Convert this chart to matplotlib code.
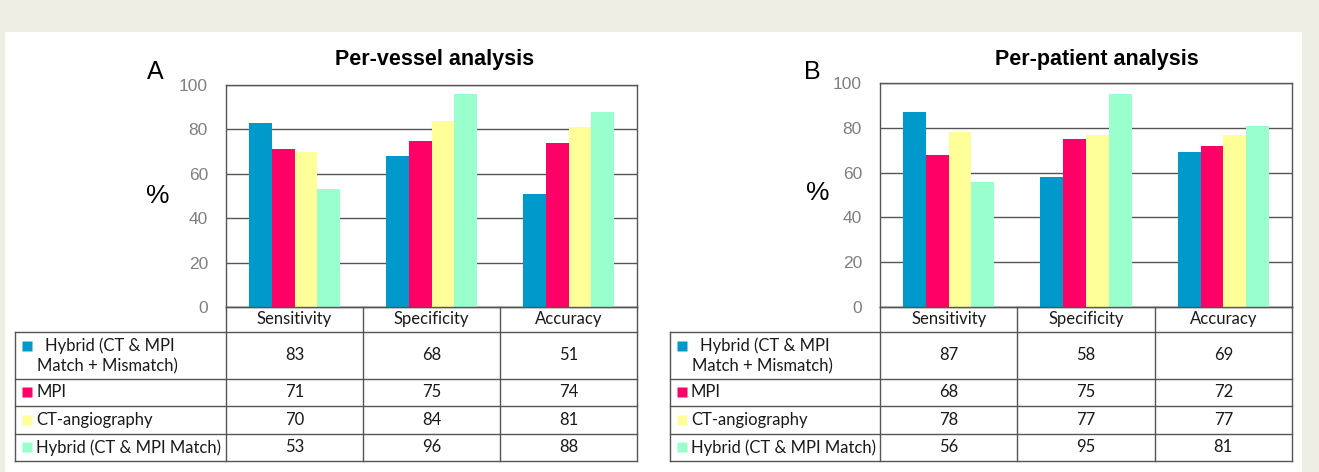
import matplotlib
matplotlib.use("Agg")
import matplotlib.pyplot as plt
from matplotlib.patches import Rectangle

W, H = 1319, 472

metrics = ["Sensitivity", "Specificity", "Accuracy"]
series_names = ["Hybrid (CT & MPI\nMatch + Mismatch)", "MPI", "CT-angiography", "Hybrid (CT & MPI Match)"]
colors = ["#0099CC", "#FF0066", "#FFFF99", "#99FFCC"]

vessel_hybrid_mm = [83, 68, 51]
vessel_mpi = [71, 75, 74]
vessel_cta = [70, 84, 81]
vessel_hybrid_match = [53, 96, 88]

patient_hybrid_mm = [87, 58, 69]
patient_mpi = [68, 75, 72]
patient_cta = [78, 77, 77]
patient_hybrid_match = [56, 95, 81]

yticks = [0, 20, 40, 60, 80, 100]

GRID = "#555555"
TICK = "#808080"
TXT = "#1a1a1a"
TABLE_FONT = ["Lato", "DejaVu Sans"]
TFS = 12


def rect(x0, y0, x1, y1):
    # pixel box -> figure fraction
    return [x0 / W, 1 - y1 / H, (x1 - x0) / W, (y1 - y0) / H]


def panel(fig, letter, title, data, ax_box, tab_left, title_x, letter_xy, pct_xy):
    x0, y0, x1, y1 = ax_box
    ax = fig.add_axes(rect(x0, y0, x1, y1))
    n = len(data)
    width = 0.166
    for i, vals in enumerate(data):
        xs = [j + (i - (n - 1) / 2) * width for j in range(len(metrics))]
        ax.bar(xs, vals, width, color=colors[i], zorder=3)
    ax.set_xlim(-0.5, 2.5)
    ax.set_ylim(0, 100)
    ax.set_yticks(yticks)
    ax.set_xticks([])
    ax.yaxis.grid(True, color=GRID, lw=1.0, zorder=1)
    ax.tick_params(axis="y", length=0, pad=13, labelcolor=TICK, labelsize=12.5)
    for lab in ax.get_yticklabels():
        lab.set_family(["Liberation Sans Narrow", "Liberation Sans"])
    for s in ax.spines.values():
        s.set_color(GRID)
        s.set_linewidth(1.0)

    fig.text(title_x / W, 1 - 60 / H, title, ha="center", va="center", fontsize=15.5,
             fontweight="bold", family=["Liberation Sans Narrow", "Liberation Sans"])
    fig.text(letter_xy[0] / W, 1 - letter_xy[1] / H, letter, ha="center", va="center",
             fontsize=18, family="Liberation Sans")
    fig.text(pct_xy[0] / W, 1 - pct_xy[1] / H, "%", ha="center", va="center",
             fontsize=19, family="Liberation Sans")

    # table under the bars, sharing the category scale
    unit = (x1 - x0) / 3.0
    lab_w = (x0 - tab_left) / unit
    rows = [307, 332, 379, 406, 434, 461]
    tab = fig.add_axes(rect(tab_left, rows[0], x1, rows[-1]))
    tab.set_xlim(-0.5 - lab_w, 2.5)
    tab.set_ylim(rows[-1], rows[0])
    tab.axis("off")
    left = -0.5 - lab_w
    lk = dict(color=GRID, lw=1.0, solid_capstyle="projecting", clip_on=False)
    tab.plot([-0.5, 2.5], [rows[0], rows[0]], **lk)
    for r in rows[1:]:
        tab.plot([left, 2.5], [r, r], **lk)
    tab.plot([left, left], [rows[1], rows[-1]], **lk)
    for xv in [-0.5, 0.5, 1.5, 2.5]:
        tab.plot([xv, xv], [rows[0], rows[-1]], **lk)

    for j, m in enumerate(metrics):
        tab.text(j, (rows[0] + rows[1]) / 2, m, ha="center", va="center",
                 fontsize=TFS, family=TABLE_FONT, color=TXT)

    px = 1 / unit
    for i, name in enumerate(series_names):
        yc = (rows[i + 1] + rows[i + 2]) / 2
        tab.plot(left + 12 * px, yc if i else 346, marker="s", ms=6.5, color=colors[i], mec="none")
        if "\n" in name:
            l1, l2 = name.split("\n")
            tab.text(left + 30 * px, 346, l1, ha="left", va="center", fontsize=TFS,
                     family=TABLE_FONT, color=TXT)
            tab.text(left + 22 * px, 366, l2, ha="left", va="center", fontsize=TFS,
                     family=TABLE_FONT, color=TXT)
        else:
            tab.text(left + 21 * px, yc, name, ha="left", va="center", fontsize=TFS,
                     family=TABLE_FONT, color=TXT)
        for j in range(len(metrics)):
            tab.text(j, yc, str(data[i][j]), ha="center", va="center", fontsize=TFS,
                     family=TABLE_FONT, color=TXT)
    return ax


fig = plt.figure(figsize=(W / 100, H / 100), dpi=100, facecolor="#EEEEE4")
fig.patches.append(Rectangle((5 / W, 0), (1302 - 5) / W, 1 - 32 / H, transform=fig.transFigure,
                             facecolor="white", edgecolor="none", zorder=-10))

panel(fig, "A", "Per-vessel analysis",
      [vessel_hybrid_mm, vessel_mpi, vessel_cta, vessel_hybrid_match],
      (226, 85, 637, 307), 15, 435, (155, 72), (158, 196))
panel(fig, "B", "Per-patient analysis",
      [patient_hybrid_mm, patient_mpi, patient_cta, patient_hybrid_match],
      (880, 83, 1292, 307), 670, 1097, (812, 72), (818, 193))

fig.savefig("out.png", dpi=100, facecolor=fig.get_facecolor())
